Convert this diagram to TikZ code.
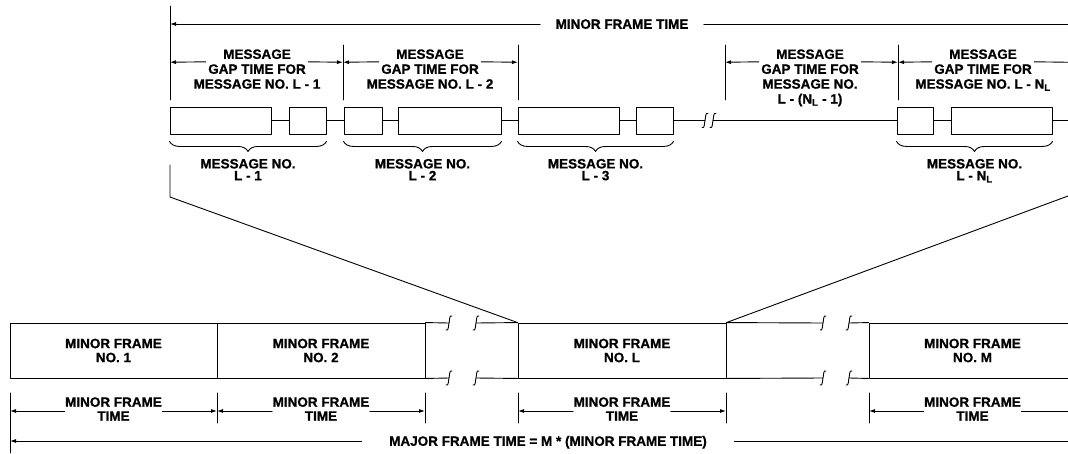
\documentclass[tikz,border=0pt]{standalone}
\usepackage{fontspec}
\setmainfont{Liberation Sans}[BoldFeatures={FakeBold=0.8}]
\usetikzlibrary{positioning,arrows.meta,decorations.pathreplacing}

\begin{document}
\begin{tikzpicture}[x=1pt, y=-1pt, line cap=round, line join=round, line width=0.9pt,
    lbl/.style={inner sep=0pt, text height=9.5pt, text depth=0pt, font=\fontsize{13.5}{14}\selectfont\bfseries},
    mid/.style={lbl, inner xsep=2pt, inner ysep=2pt},
    tlbl/.style={inner sep=0pt, align=center, font=\fontsize{13.5}{14}\selectfont\bfseries},
    msg/.style={draw, minimum height=27pt, inner sep=0pt},
    frm/.style={draw, minimum height=55pt, inner sep=0pt, align=center, font=\fontsize{13.5}{14}\selectfont\bfseries},
    dim/.style={-{Latex[length=6pt,width=4pt]}},
    brc/.style={decorate, decoration={brace, mirror, amplitude=10pt}},
    brk/.pic={\draw (3,-7) .. controls (0,-8.5) and (0.8,-2) .. (0,0) .. controls (-0.8,2) and (0,8.5) .. (-3,7);}]

\useasboundingbox (0,0) rectangle (1068,453);

\draw (170,6) -- (170,100);
\foreach \x in {343,518,725,898} {
    \draw (\x,45) -- (\x,100);
}
\foreach \n/\x in {0/170,1/343,2/518,3/725,4/898,5/1068} {
    \coordinate (g\n) at (\x,62.25);
}

\node[lbl, inner xsep=15pt] (mft) at (622,24) {MINOR FRAME TIME};
\coordinate (a0) at (170,24);
\coordinate (a1) at (1068,24);
\draw[dim] (mft) -- (a0);
\draw (mft) -- (a1);

\node[mid] (gp1) at (257,69) {GAP TIME FOR};
\node[lbl, above=2.5pt of gp1] {MESSAGE};
\node[lbl, below=2.5pt of gp1] {MESSAGE NO. L - 1};
\node[mid] (gp2) at (430,69) {GAP TIME FOR};
\node[lbl, above=2.5pt of gp2] {MESSAGE};
\node[lbl, below=2.5pt of gp2] {MESSAGE NO. L - 2};
\node[mid] (gp4) at (810,69) {GAP TIME FOR};
\node[lbl, above=2.5pt of gp4] {MESSAGE};
\node[lbl, below=2.5pt of gp4] (gp4b) {MESSAGE NO.};
\node[lbl, below=4.5pt of gp4b] {L - (N\textsubscript{L} - 1)};
\node[mid] (gp5) at (983,69) {GAP TIME FOR};
\node[lbl, above=2.5pt of gp5] {MESSAGE};
\node[lbl, below=2.5pt of gp5] {MESSAGE NO. L - N\textsubscript{L}};

\draw[dim] (gp1.north west) -- (g0);
\draw[dim] (gp1.north east) -- (g1);
\draw[dim] (gp2.north west) -- (g1);
\draw[dim] (gp2.north east) -- (g2);
\draw[dim] (gp4.north west) -- (g3);
\draw[dim] (gp4.north east) -- (g4);
\draw[dim] (gp5.north west) -- (g4);
\draw (gp5.north east) -- (g5);

\foreach \n/\l/\r in {1/170/271,2/289/326,3/344/382,4/398/501,5/518/619,6/636/673,7/897/933,8/951/1052} {
    \node[msg, minimum width={(\r-\l)*1pt}] (m\n) at ({(\l+\r)/2},120.5) {};
}
\foreach \a/\b in {1/2,2/3,3/4,4/5,5/6,7/8} {
    \draw (m\a) -- (m\b);
}
\coordinate (s1) at (705,120.5);
\coordinate (s2) at (713,120.5);
\coordinate (s3) at (1068,120.5);
\draw (m6) -- (s1);
\draw (s2) -- (m7);
\draw (m8) -- (s3);
\pic at (s1) {brk};
\pic at (s2) {brk};

\draw[brc] ([yshift=-7pt]m1.south west) -- ([yshift=-7pt]m2.south east)
    node[lbl, midway, below=17pt] (bl1) {MESSAGE NO.};
\node[lbl, below=1.5pt of bl1] {L - 1};
\draw[brc] ([yshift=-7pt]m3.south west) -- ([yshift=-7pt]m4.south east)
    node[lbl, midway, below=17pt] (bl2) {MESSAGE NO.};
\node[lbl, below=1.5pt of bl2] {L - 2};
\draw[brc] ([yshift=-7pt]m5.south west) -- ([yshift=-7pt]m6.south east)
    node[lbl, midway, below=17pt] (bl3) {MESSAGE NO.};
\node[lbl, below=1.5pt of bl3] {L - 3};
\draw[brc] ([yshift=-7pt]m7.south west) -- ([yshift=-7pt]m8.south east)
    node[lbl, midway, below=17pt] (bl4) {MESSAGE NO.};
\node[lbl, below=1.5pt of bl4] {L - N\textsubscript{L}};

\node[frm, minimum width=207pt] (f1) at (113.5,350.5) {MINOR FRAME\\NO. 1};
\node[frm, minimum width=208pt] (f2) at (321,350.5) {MINOR FRAME\\NO. 2};
\node[frm, minimum width=208pt] (f3) at (622,350.5) {MINOR FRAME\\NO. L};
\node[frm, minimum width=207pt] (f4) at (972.5,350.5) {MINOR FRAME\\NO. M};

\draw (f2.north east) -- (449,323) (476,323) -- (f3.north west)
    (f3.north east) -- (823,323) (849,323) -- (f4.north west);
\draw (f2.south east) -- (449,378) (476,378) -- (f3.south west)
    (f3.south east) -- (823,378) (849,378) -- (f4.south west);
\foreach \x in {449,476,823,849} {
    \pic at (\x,323) {brk};
    \pic at (\x,378) {brk};
}

\coordinate (z0) at (170,165);
\coordinate (z1) at (170,197);
\coordinate (z2) at (1068,196);
\draw (z0) -- (z1) -- (f3.north west);
\draw (f3.north east) -- (z2);

\draw (10,393) -- (10,453);
\foreach \x in {217,425,518,726,869} {
    \draw (\x,393) -- (\x,423);
}
\foreach \n/\x in {0/10,1/217,2/425,3/518,4/726,5/869,6/1068} {
    \coordinate (k\n) at (\x,411);
}

\node[tlbl] (t1) at (113.5,409) {MINOR FRAME\\TIME};
\node[tlbl] (t2) at (321,409) {MINOR FRAME\\TIME};
\node[tlbl] (t3) at (622,409) {MINOR FRAME\\TIME};
\node[tlbl] (t4) at (972.5,409) {MINOR FRAME\\TIME};
\draw[dim] ([yshift=-2pt]t1.west) -- (k0);
\draw[dim] ([yshift=-2pt]t1.east) -- (k1);
\draw[dim] ([yshift=-2pt]t2.west) -- (k1);
\draw[dim] ([yshift=-2pt]t2.east) -- (k2);
\draw[dim] ([yshift=-2pt]t3.west) -- (k3);
\draw[dim] ([yshift=-2pt]t3.east) -- (k4);
\draw[dim] ([yshift=-2pt]t4.west) -- (k5);
\draw ([yshift=-2pt]t4.east) -- (k6);

\node[lbl, inner xsep=27pt] (mj) at (548,441) {MAJOR FRAME TIME = M * (MINOR FRAME TIME)};
\coordinate (j0) at (10,441);
\coordinate (j1) at (1068,441);
\draw[dim] (mj) -- (j0);
\draw (mj) -- (j1);
\end{tikzpicture}
\end{document}
